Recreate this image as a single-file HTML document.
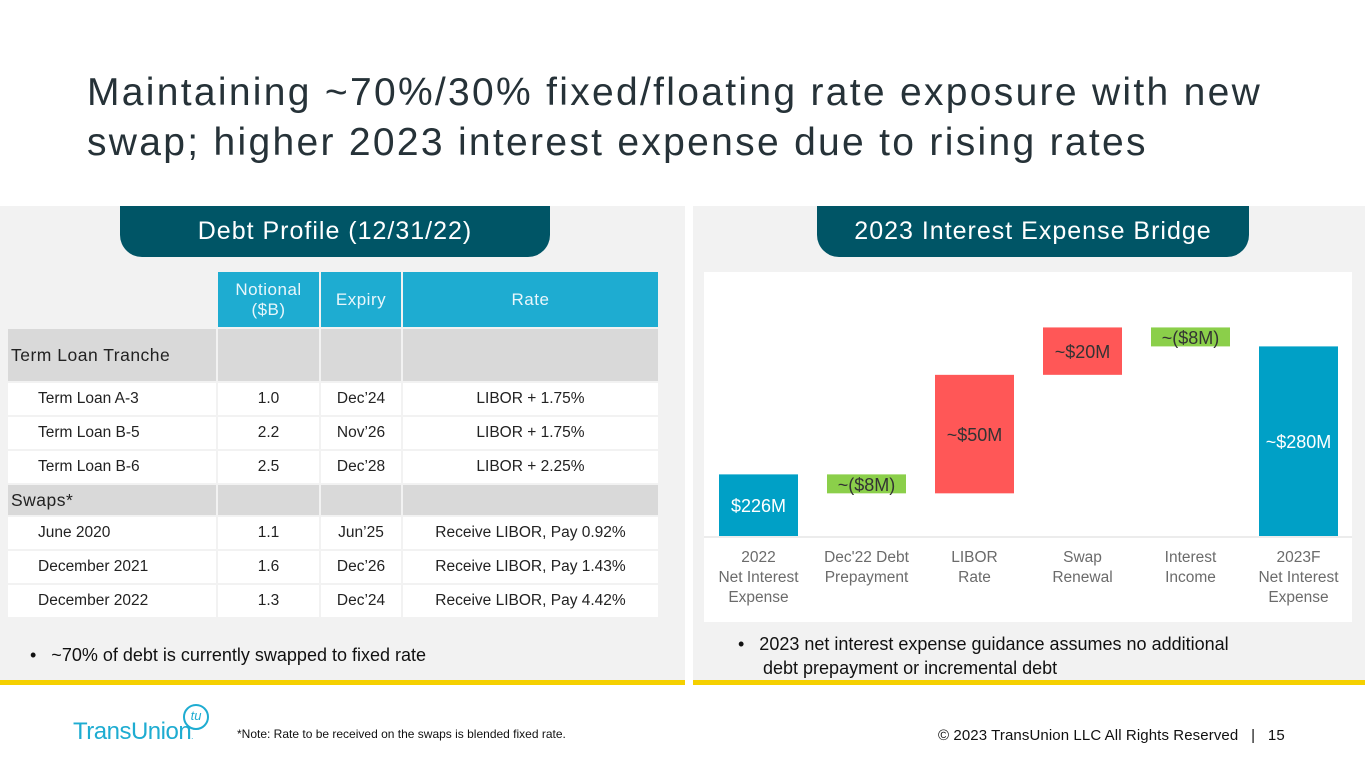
<!DOCTYPE html>
<html><head><meta charset="utf-8"><style>
body{margin:0;width:1365px;height:768px;background:#fff;position:relative;overflow:hidden;font-family:"Liberation Sans",sans-serif}
.abs{position:absolute}
h1{position:absolute;left:87px;top:68px;width:1240px;margin:0;font-weight:normal;font-size:39px;line-height:50px;color:#263238;letter-spacing:2.3px}
.panel{position:absolute;top:206px;height:474px;background:#f2f2f2;border-bottom:5px solid #f5d000}
.tab{position:absolute;top:206px;height:51px;background:#005566;color:#fff;font-size:25px;text-align:center;line-height:51px;border-radius:0 0 22px 22px;letter-spacing:1px}
table{position:absolute;left:8px;top:272px;border-collapse:separate;border-spacing:2px;width:654px;font-size:15.5px;color:#222;margin:-2px}
td{padding:0;text-align:center}
.hd td{background:#1eacd1;color:#e8f6fb;font-size:17px;height:55px;letter-spacing:0.5px}
.hd td.blank{background:transparent}
.sec td{background:#d9d9d9;font-size:17.5px;text-align:left;padding-left:3px;letter-spacing:0.5px}
.row td{background:#fff;height:32px}
.row td:first-child{text-align:left;padding-left:30px}
.bul{font-size:18px;color:#111}
</style></head><body>
<h1>Maintaining ~70%/30% fixed/floating rate exposure with new swap; higher 2023 interest expense due to rising rates</h1>
<div class="panel" style="left:0;width:685px"></div>
<div class="panel" style="left:693px;width:672px"></div>
<div class="tab" style="left:120px;width:430px">Debt Profile (12/31/22)</div>
<div class="tab" style="left:817px;width:432px">2023 Interest Expense Bridge</div>
<table>
<tr class="hd"><td class="blank" style="width:208px"></td><td style="width:101px">Notional<br>($B)</td><td style="width:80px">Expiry</td><td>Rate</td></tr>
<tr class="sec" style="height:52px"><td>Term Loan Tranche</td><td></td><td></td><td></td></tr>
<tr class="row"><td>Term Loan A-3</td><td>1.0</td><td>Dec’24</td><td>LIBOR + 1.75%</td></tr>
<tr class="row"><td>Term Loan B-5</td><td>2.2</td><td>Nov’26</td><td>LIBOR + 1.75%</td></tr>
<tr class="row"><td>Term Loan B-6</td><td>2.5</td><td>Dec’28</td><td>LIBOR + 2.25%</td></tr>
<tr class="sec" style="height:30px"><td>Swaps*</td><td></td><td></td><td></td></tr>
<tr class="row"><td>June 2020</td><td>1.1</td><td>Jun’25</td><td>Receive LIBOR, Pay 0.92%</td></tr>
<tr class="row"><td>December 2021</td><td>1.6</td><td>Dec’26</td><td>Receive LIBOR, Pay 1.43%</td></tr>
<tr class="row"><td>December 2022</td><td>1.3</td><td>Dec’24</td><td>Receive LIBOR, Pay 4.42%</td></tr>
</table>
<div class="abs bul" style="left:30px;top:645px">•&nbsp;&nbsp; ~70% of debt is currently swapped to fixed rate</div>
<svg class="abs" style="left:0;top:0" width="1365" height="768" id="chart">
<rect x="704" y="272" width="648" height="350" fill="#fff"/>
<line x1="704" y1="537" x2="1352" y2="537" stroke="#d9d9d9"/>
</svg>
<div class="abs bul" style="left:738px;top:632px;line-height:24px">•&nbsp;&nbsp; 2023 net interest expense guidance assumes no additional<br>&nbsp;&nbsp;&nbsp;&nbsp;&nbsp;debt prepayment or incremental debt</div>
<div class="abs" style="left:73px;top:718px;font-size:24px;color:#1eacd1;letter-spacing:-0.5px">TransUnion<span style="font-size:8px">.</span></div>
<div class="abs" style="left:183px;top:704px;width:22px;height:22px;border:2px solid #1eacd1;border-radius:50%;color:#1eacd1;font-size:13px;text-align:center;line-height:20px;font-style:italic">tu</div>
<div class="abs" style="left:237px;top:727px;font-size:12px;color:#111">*Note: Rate to be received on the swaps is blended fixed rate.</div>
<div class="abs" style="left:938px;top:727px;font-size:15px;color:#111;letter-spacing:0.1px">© 2023 TransUnion LLC All Rights Reserved &nbsp;&nbsp;| &nbsp;&nbsp;15</div>
<script>
const categories=["2022\nNet Interest\nExpense","Dec'22 Debt\nPrepayment","LIBOR\nRate","Swap\nRenewal","Interest\nIncome","2023F\nNet Interest\nExpense"];
const deltas=[226,-8,50,20,-8,280];
const types=["total","neg","pos","pos","neg","total"];
const labels=["$226M","~($8M)","~$50M","~$20M","~($8M)","~$280M"];
const svg=document.getElementById('chart');
const NS="http://www.w3.org/2000/svg";
const yMin=200,y0=536,k=2.37;
const y=v=>y0-(v-yMin)*k;
const x=i=>719+i*108;
const bw=79;
const colors={total:"#00a0c6",neg:"#8bcf4a",pos:"#ff5757"};
let run=0;
deltas.forEach((d,i)=>{
  let lo,hi;
  if(types[i]==="total"){lo=yMin;hi=d;run=d;}
  else{const s=run;run=s+d;lo=Math.min(s,run);hi=Math.max(s,run);}
  const r=document.createElementNS(NS,'rect');
  r.setAttribute('x',x(i));r.setAttribute('y',y(hi));r.setAttribute('width',bw);r.setAttribute('height',y(lo)-y(hi));r.setAttribute('fill',colors[types[i]]);
  
  
  svg.appendChild(r);
  const t=document.createElementNS(NS,'text');
  t.setAttribute('x',x(i)+bw/2);
  t.setAttribute('y',(y(lo)+y(hi))/2+7);
  t.setAttribute('text-anchor','middle');t.setAttribute('font-size','18');
  t.setAttribute('fill',types[i]==="total"?"#fff":"#333");
  t.setAttribute('font-family','Liberation Sans, sans-serif');
  t.textContent=labels[i];
  
  
  svg.appendChild(t);
  const c=document.createElementNS(NS,'text');
  c.setAttribute('text-anchor','middle');c.setAttribute('font-size','15.5');c.setAttribute('fill','#6b6b6b');
  c.setAttribute('font-family','Liberation Sans, sans-serif');
  categories[i].split("\n").forEach((ln,j)=>{const ts=document.createElementNS(NS,'tspan');ts.setAttribute('x',x(i)+bw/2);ts.setAttribute('y',562+j*20);ts.textContent=ln;c.appendChild(ts);});
  
  
  svg.appendChild(c);
});
</script>
</body></html>
